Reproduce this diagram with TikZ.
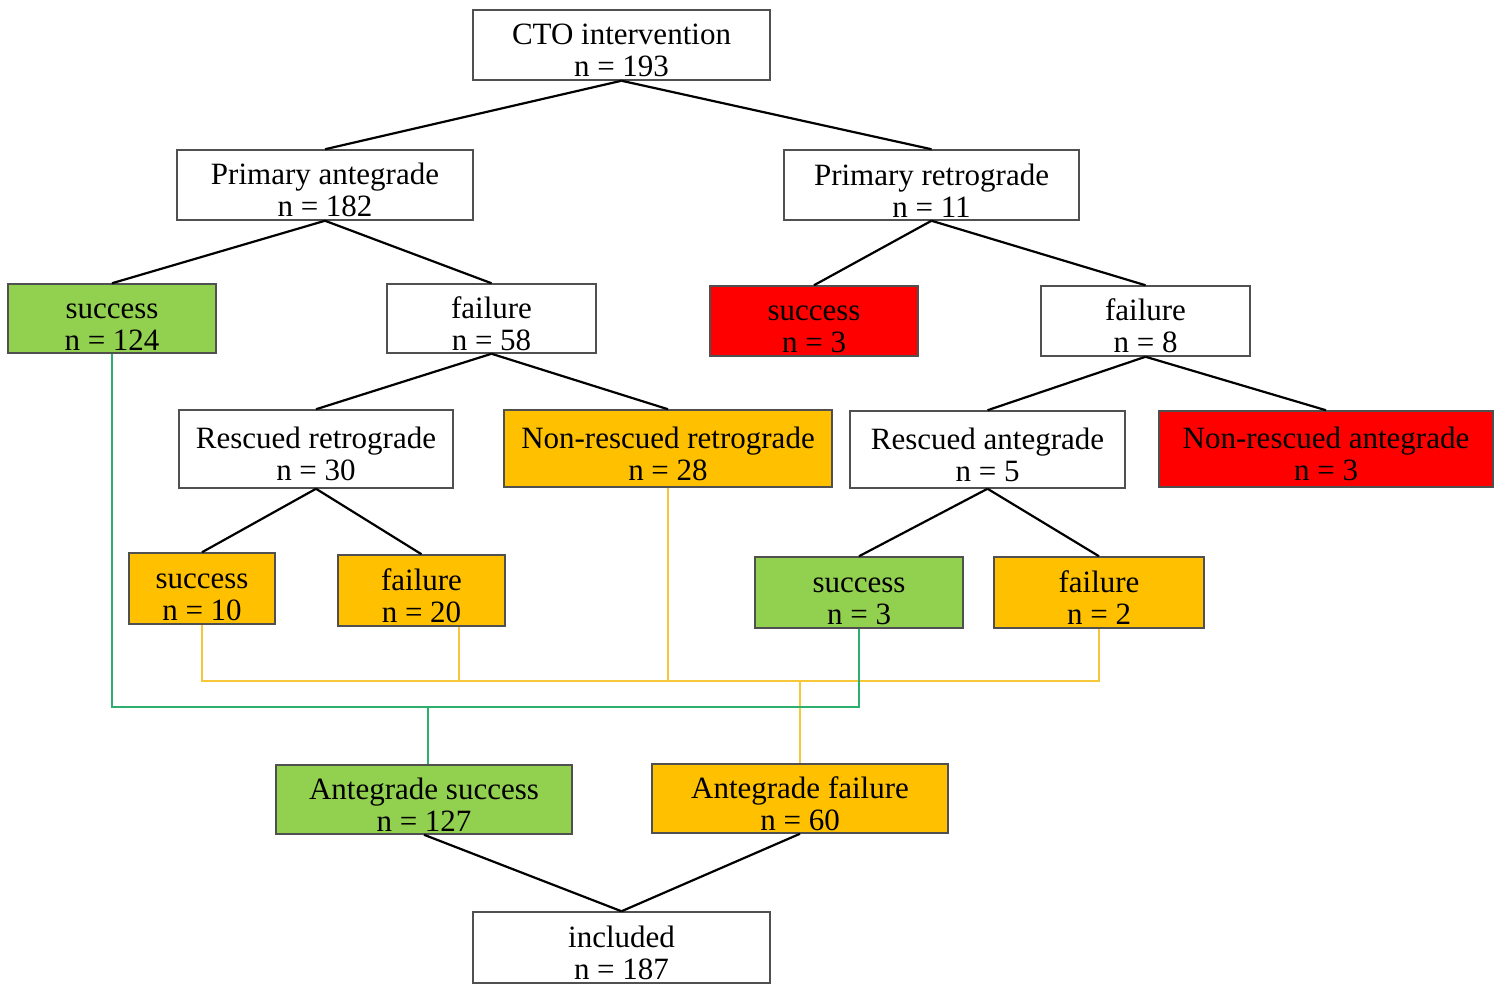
\documentclass[tikz,border=0pt]{standalone}
\usepackage{fontspec}
\setmainfont{Liberation Serif}
\definecolor{gfill}{HTML}{92D050}
\definecolor{ofill}{HTML}{FFC000}
\definecolor{rfill}{HTML}{FF0000}
\definecolor{gline}{HTML}{2EAF6E}
\definecolor{yline}{HTML}{F7C73A}
\definecolor{bord}{HTML}{505050}
\newcommand{\twol}[2]{\rule{0pt}{32pt}#1\\#2}
\tikzset{
  box/.style={draw=bord, line width=1.5pt, fill=white, inner sep=0pt, align=center,
    font=\fontsize{31}{32}\selectfont},
  gbox/.style={box, fill=gfill},
  obox/.style={box, fill=ofill},
  rbox/.style={box, fill=rfill},
  conn/.style={line width=2.2pt, black},
  yconn/.style={line width=2pt, yline},
  gconn/.style={line width=2pt, gline},
}
\begin{document}
\begin{tikzpicture}[x=1pt, y=-1pt]
\useasboundingbox[fill=white] (0,0) rectangle (1501,985);
% nodes
\node[box, minimum width=297pt, minimum height=70pt] (cto) at (621.5,45) {\twol{CTO intervention}{n = 193}};
\node[box, minimum width=296pt, minimum height=70pt] (pa) at (325,185) {\twol{Primary antegrade}{n = 182}};
\node[box, minimum width=295pt, minimum height=70pt] (pr) at (931.5,185) {\twol{Primary retrograde}{n = 11}};
\node[gbox, minimum width=208pt, minimum height=69pt] (s124) at (112,318.5) {\twol{success}{n = 124}};
\node[box, minimum width=209pt, minimum height=69pt] (f58) at (491.5,318.5) {\twol{failure}{n = 58}};
\node[rbox, minimum width=208pt, minimum height=70pt] (s3r) at (814,321) {\twol{success}{n = 3}};
\node[box, minimum width=209pt, minimum height=70pt] (f8) at (1145.5,321) {\twol{failure}{n = 8}};
\node[box, minimum width=274pt, minimum height=78pt] (rr) at (316,449) {\twol{Rescued retrograde}{n = 30}};
\node[obox, minimum width=328pt, minimum height=77pt] (nrr) at (668,448.5) {\twol{Non-rescued retrograde}{n = 28}};
\node[box, minimum width=275pt, minimum height=77pt] (ra) at (987.5,449.5) {\twol{Rescued antegrade}{n = 5}};
\node[rbox, minimum width=334pt, minimum height=76pt] (nra) at (1326,449) {\twol{Non-rescued antegrade}{n = 3}};
\node[obox, minimum width=146pt, minimum height=71pt] (s10) at (202,588.5) {\twol{success}{n = 10}};
\node[obox, minimum width=167pt, minimum height=71pt] (f20) at (421.5,590.5) {\twol{failure}{n = 20}};
\node[gbox, minimum width=208pt, minimum height=71pt] (s3g) at (859,592.5) {\twol{success}{n = 3}};
\node[obox, minimum width=210pt, minimum height=71pt] (f2) at (1099,592.5) {\twol{failure}{n = 2}};
\node[gbox, minimum width=296pt, minimum height=69pt] (as) at (424,799.5) {\twol{Antegrade success}{n = 127}};
\node[obox, minimum width=296pt, minimum height=69pt] (af) at (800,798.5) {\twol{Antegrade failure}{n = 60}};
\node[box, minimum width=297pt, minimum height=71pt] (inc) at (621.5,947.5) {\twol{included}{n = 187}};
% tree connectors
\draw[conn] (cto.south) -- (pa.north);
\draw[conn] (cto.south) -- (pr.north);
\draw[conn] (pa.south) -- (s124.north);
\draw[conn] (pa.south) -- (f58.north);
\draw[conn] (pr.south) -- (s3r.north);
\draw[conn] (pr.south) -- (f8.north);
\draw[conn] (f58.south) -- (rr.north);
\draw[conn] (f58.south) -- (nrr.north);
\draw[conn] (f8.south) -- (ra.north);
\draw[conn] (f8.south) -- (nra.north);
\draw[conn] (rr.south) -- (s10.north);
\draw[conn] (rr.south) -- (f20.north);
\draw[conn] (ra.south) -- (s3g.north);
\draw[conn] (ra.south) -- (f2.north);
\draw[conn] (as.south) -- (inc.north);
\draw[conn] (af.south) -- (inc.north);
% yellow bus
\coordinate (ybus) at (0,681);
\coordinate (f20o) at ([xshift=37.5pt]f20.south);
\draw[yconn] (s10.south) -- (s10.south |- ybus) -- (f2.south |- ybus) -- (f2.south);
\draw[yconn] (f20o) -- (f20o |- ybus);
\draw[yconn] (nrr.south) -- (nrr.south |- ybus);
\draw[yconn] (af.north |- ybus) -- (af.north);
% green bus
\coordinate (gbus) at (0,707);
\coordinate (aso) at ([xshift=4pt]as.north);
\draw[gconn] (s124.south) -- (s124.south |- gbus) -- (s3g.south |- gbus) -- (s3g.south);
\draw[gconn] (aso |- gbus) -- (aso);
\end{tikzpicture}
\end{document}
